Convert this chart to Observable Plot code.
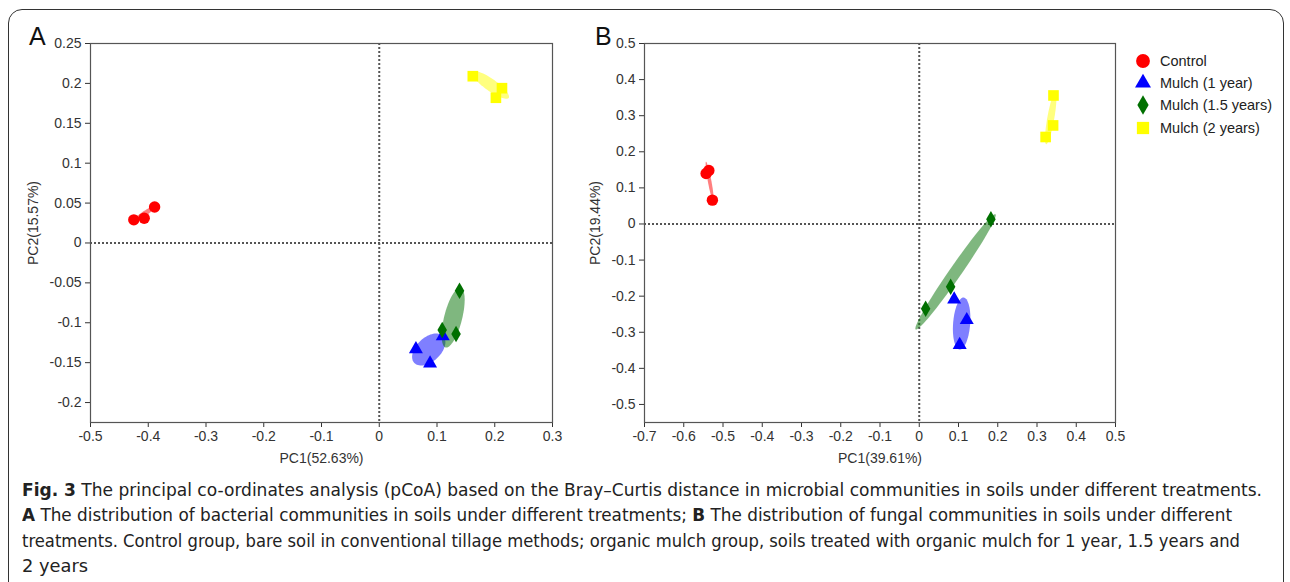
<!DOCTYPE html>
<html><head><meta charset="utf-8">
<script src="https://cdn.jsdelivr.net/npm/d3@7"></script>
<script src="https://cdn.jsdelivr.net/npm/@observablehq/plot@0.6"></script>
<style>
body{margin:0;background:#fff;width:1290px;height:582px;overflow:hidden;position:relative;font-family:"Liberation Sans",Arial,sans-serif;}
#box{position:absolute;left:8px;top:9px;width:1274px;height:640px;border:1.5px solid #333;border-radius:14px;}
#A{position:absolute;left:0;top:0;}
#B{position:absolute;left:580px;top:0;}
.tag{position:absolute;font-size:25px;color:#111;line-height:1;}
#legend{position:absolute;left:1131px;top:50px;font-size:14.5px;color:#222;}
#legend .row{height:22.2px;display:flex;align-items:center;}
#legend svg{width:24px;height:22px;margin-right:5px;}
#caption{position:absolute;left:22px;top:477px;font-family:"Liberation Sans Narrow","DejaVu Sans Condensed","Liberation Sans",sans-serif;font-size:18px;line-height:25.3px;color:#222;white-space:nowrap;}
#caption .ln{display:block;transform-origin:0 50%;width:max-content;}
</style></head>
<body>
<div id="box"></div>
<div id="A"></div>
<div id="B"></div>
<div class="tag" style="left:29px;top:24px;">A</div>
<div class="tag" style="left:595px;top:24px;">B</div>
<div id="legend"></div>
<div id="caption"></div>
<script>
// ---------- data ----------
const groups = ["Control", "Mulch (1 year)", "Mulch (1.5 years)", "Mulch (2 years)"];
const colors = ["#ff0000", "#0000ff", "#007000", "#ffff00"];
const symbols = ["circle", "triangle", "diamond", "square"];

// Panel A (bacteria)
const A_x_control = [-0.425, -0.407, -0.389];
const A_y_control = [0.029, 0.031, 0.045];
const A_x_m1 = [0.0635, 0.088, 0.110];
const A_y_m1 = [-0.133, -0.151, -0.117];
const A_x_m15 = [0.139, 0.109, 0.133];
const A_y_m15 = [-0.060, -0.109, -0.114];
const A_x_m2 = [0.162, 0.2125, 0.202];
const A_y_m2 = [0.209, 0.194, 0.182];

// Panel B (fungi)
const B_x_control = [-0.543, -0.536, -0.527];
const B_y_control = [0.140, 0.148, 0.066];
const B_x_m1 = [0.089, 0.121, 0.103];
const B_y_m1 = [-0.209, -0.266, -0.335];
const B_x_m15 = [0.1826, 0.080, 0.0163];
const B_y_m15 = [0.013, -0.174, -0.235];
const B_x_m2 = [0.342, 0.341, 0.322];
const B_y_m2 = [0.356, 0.273, 0.241];

// ellipse parameters: center, major half-axis vector, minor half-axis vector (data units)
const A_ell_cx = [-0.4076, 0.0857, 0.128, 0.193];
const A_ell_cy = [0.0362, -0.1335, -0.0936, 0.198];
const A_ell_ux = [0.0190, 0.0251, 0.0130, 0.0312];
const A_ell_uy = [0.0094, 0.0168, 0.0374, -0.0162];
const A_ell_vx = [0.0024, 0.0142, 0.0151, -0.0061];
const A_ell_vy = [-0.0026, -0.0110, -0.0027, -0.0061];

const B_ell_cx = [-0.534, 0.108, 0.0925, 0.335];
const B_ell_cy = [0.118, -0.276, -0.1326, 0.2926];
const B_ell_ux = [0.0093, 0.0051, 0.1017, 0.0116];
const B_ell_uy = [-0.0545, 0.0721, 0.1595, 0.0715];
const B_ell_vx = [0.0045, 0.0217, 0.01256, 0.0088];
const B_ell_vy = [0.0009, -0.0018, -0.0095, -0.0017];

// axes
const A_xticks = [-0.5, -0.4, -0.3, -0.2, -0.1, 0, 0.1, 0.2, 0.3];
const A_yticks = [0.25, 0.2, 0.15, 0.1, 0.05, 0, -0.05, -0.1, -0.15, -0.2];
const B_xticks = [-0.7, -0.6, -0.5, -0.4, -0.3, -0.2, -0.1, 0, 0.1, 0.2, 0.3, 0.4, 0.5];
const B_yticks = [0.5, 0.4, 0.3, 0.2, 0.1, 0, -0.1, -0.2, -0.3, -0.4, -0.5];
const A_xlabel = "PC1(52.63%)", A_ylabel = "PC2(15.57%)";
const B_xlabel = "PC1(39.61%)", B_ylabel = "PC2(19.44%)";

const captionLines = [
  ["Fig. 3", "  The principal co-ordinates analysis (pCoA) based on the Bray–Curtis distance in microbial communities in soils under different treatments."],
  ["A", " The distribution of bacterial communities in soils under different treatments; ", "B", " The distribution of fungal communities in soils under different"],
  ["", "treatments. Control group, bare soil in conventional tillage methods; organic mulch group, soils treated with organic mulch for 1 year, 1.5 years and"],
  ["", "2 years"]
];
const captionWidths = [1240, 1210, 1218, 66];

// ---------- build ----------
const dotR = [5.7, 5.2, 5.0, 6.0];

function makePanel(xs, ys, ell, o) {
  const pts = [];
  groups.forEach((g, gi) => xs[gi].forEach((x, i) => pts.push({g: gi, x, y: ys[gi][i]})));
  const ellMarks = groups.map((g, gi) => {
    const p = d3.range(73).map(k => {
      const t = k / 72 * 2 * Math.PI;
      return {x: ell.cx[gi] + ell.ux[gi] * Math.cos(t) + ell.vx[gi] * Math.sin(t),
              y: ell.cy[gi] + ell.uy[gi] * Math.cos(t) + ell.vy[gi] * Math.sin(t)};
    });
    return Plot.line(p, {x: "x", y: "y", fill: colors[gi], fillOpacity: 0.5, stroke: "none", curve: "linear-closed"});
  });
  const dotMarks = groups.map((g, gi) =>
    Plot.dot(pts.filter(d => d.g === gi), {x: "x", y: "y", symbol: symbols[gi], fill: colors[gi], r: dotR[gi], stroke: "none"}));
  const fmt = d => String(d);
  const svg = Plot.plot({
    width: o.width, height: o.height,
    marginLeft: o.ml, marginRight: o.mr, marginTop: o.mt, marginBottom: o.mb,
    style: {fontSize: "14px", fontFamily: "'Liberation Sans', Arial, sans-serif", color: "#333", background: "transparent", overflow: "visible"},
    x: {domain: o.xdom, ticks: o.xticks, tickFormat: fmt, tickSize: 5, label: o.xlabel, labelAnchor: "center", labelOffset: 40, labelArrow: "none"},
    y: {domain: o.ydom, ticks: o.yticks, tickFormat: fmt, tickSize: 5, label: o.ylabel, labelAnchor: "center", labelOffset: o.ylo, labelArrow: "none"},
    marks: [
      Plot.ruleX([0], {stroke: "#555", strokeWidth: 2, strokeDasharray: "2,2"}),
      Plot.ruleY([0], {stroke: "#555", strokeWidth: 2, strokeDasharray: "2,2"}),
      ...ellMarks,
      ...dotMarks,
      Plot.frame({stroke: "#555", strokeWidth: 1.2})
    ]
  });
  // nudge the y-axis label slightly upward as in the original figure
  d3.select(svg).selectAll('g[aria-label="y-axis label"] text').each(function() {
    const t = d3.select(this);
    const tr = t.attr("transform") || "";
    const m = /translate\(([-\d.]+),([-\d.]+)\)/.exec(tr);
    if (m) t.attr("transform", tr.replace(m[0], `translate(${m[1]},${+m[2] - 10})`));
  });
  return svg;
}

document.getElementById("A").append(makePanel(
  [A_x_control, A_x_m1, A_x_m15, A_x_m2], [A_y_control, A_y_m1, A_y_m15, A_y_m2],
  {cx: A_ell_cx, cy: A_ell_cy, ux: A_ell_ux, uy: A_ell_uy, vx: A_ell_vx, vy: A_ell_vy},
  {width: 580, height: 470, ml: 90, mr: 28, mt: 43, mb: 48, xdom: [-0.5, 0.3], ydom: [-0.225, 0.25],
   xticks: A_xticks, yticks: A_yticks, xlabel: A_xlabel, ylabel: A_ylabel, ylo: 62}));

document.getElementById("B").append(makePanel(
  [B_x_control, B_x_m1, B_x_m15, B_x_m2], [B_y_control, B_y_m1, B_y_m15, B_y_m2],
  {cx: B_ell_cx, cy: B_ell_cy, ux: B_ell_ux, uy: B_ell_uy, vx: B_ell_vx, vy: B_ell_vy},
  {width: 600, height: 470, ml: 64, mr: 65, mt: 43, mb: 48, xdom: [-0.7, 0.5], ydom: [-0.55, 0.5],
   xticks: B_xticks, yticks: B_yticks, xlabel: B_xlabel, ylabel: B_ylabel, ylo: 54}));

// legend
const legendSizes = [150, 110, 110, 150];
const leg = d3.select("#legend");
groups.forEach((g, gi) => {
  const row = leg.append("div").attr("class", "row");
  const svg = row.append("svg");
  const sym = [d3.symbolCircle, d3.symbolTriangle, d3.symbolDiamond, d3.symbolSquare][gi];
  svg.append("path").attr("transform", "translate(12,11)")
    .attr("d", d3.symbol(sym, legendSizes[gi])()).attr("fill", colors[gi]);
  row.append("span").text(g);
});

// caption
const cap = d3.select("#caption");
captionLines.forEach((parts, li) => {
  const ln = cap.append("span").attr("class", "ln");
  parts.forEach((p, pi) => {
    if (!p) return;
    const s = ln.append("span").text(p);
    if (pi % 2 === 0) s.style("font-weight", "bold");
  });
  const w = ln.node().getBoundingClientRect().width;
  ln.style("transform", `scaleX(${captionWidths[li] / w})`);
});
</script>
</body></html>
